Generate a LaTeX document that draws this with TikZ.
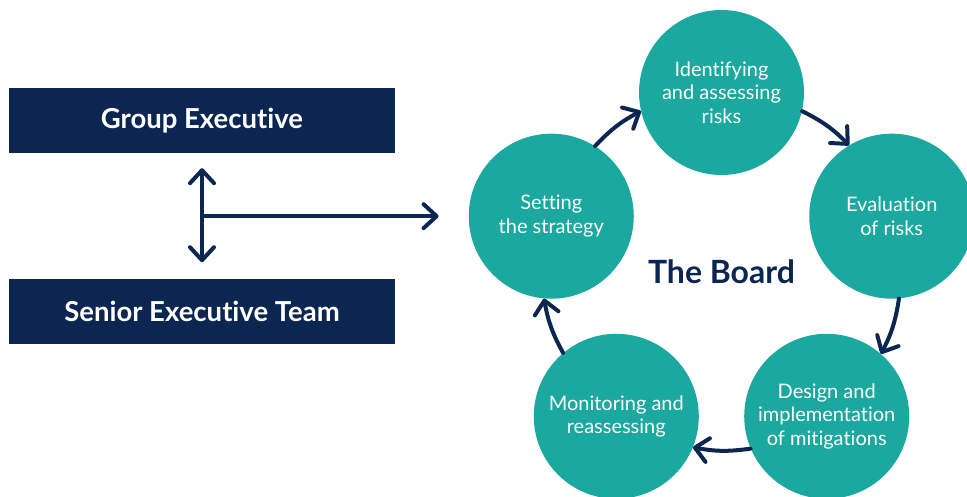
\documentclass[tikz,border=0pt]{standalone}
\usepackage{fontspec}
\setmainfont[Ligatures={NoCommon,NoContextual}]{Lato}
\usetikzlibrary{arrows.meta,positioning}

\definecolor{navy}{HTML}{0B2650}
\definecolor{boardteal}{HTML}{1AA89F}

\begin{document}
\begin{tikzpicture}[x=1pt,y=1pt]
        \edef\sizestage{165pt}
        \tikzstyle{exec}=[fill=navy,text=white,minimum width=386pt,minimum height=65pt,
                font=\fontsize{27.5}{32}\selectfont\bfseries]
        \tikzstyle{stage}=[circle,fill=boardteal,text=white,minimum size=\sizestage,inner sep=0pt,
                align=center,font=\fontsize{20}{23.5}\selectfont]
        \tikzstyle{flow}=[draw=navy,line width=4pt,line cap=round]
        \tikzset{>={Straight Barb[round,length=13pt,width=24pt]}}

        \useasboundingbox (0,0) rectangle (967,496);
        \clip (0,0) rectangle (967,496);

        % the two executive boxes
        \node [exec] (ge) at (202,375.5) {Group Executive};
        \node [exec,below=126pt of ge] (sen) {Senior Executive Team};

        % the board with its five stages round it
        \begin{scope}[shift={(721.5,224.5)}]
        \node [text=navy,font=\fontsize{32}{36}\selectfont\bfseries] (board) at (0,0) {The Board};
        \node [stage] (strat) at (162:179) {Setting\\the strategy};
        \node [stage] (ident) at (90:179) {Identifying\\and assessing\\risks};
        \node [stage] (eval) at (18:179) {Evaluation\\of risks};
        \node [stage] (design) at (-54:179) {Design and\\implementation\\of mitigations};
        \node [stage] (monit) at (-126:179) {Monitoring and\\reassessing};
        \end{scope}

        %arrows going round the cycle, from border to border
        \foreach \a/\sa/\b/\sb in {strat/58.7/ident/193.3,ident/-13.3/eval/121.3,
                eval/-85.3/design/49.3,design/-157.3/monit/-22.7,monit/130.7/strat/265.3} {
            \draw [flow,->] (\a.\sa) to[bend left=9.4] (\b.\sb);
        };

        % executives to the board
        \draw [flow,<->,shorten <=15pt,shorten >=17pt] (ge) -- (sen);
        \coordinate (fork) at (ge.south |- strat);
        \draw [flow,->,shorten >=30pt] (fork) -- (strat);
\end{tikzpicture}
\end{document}
